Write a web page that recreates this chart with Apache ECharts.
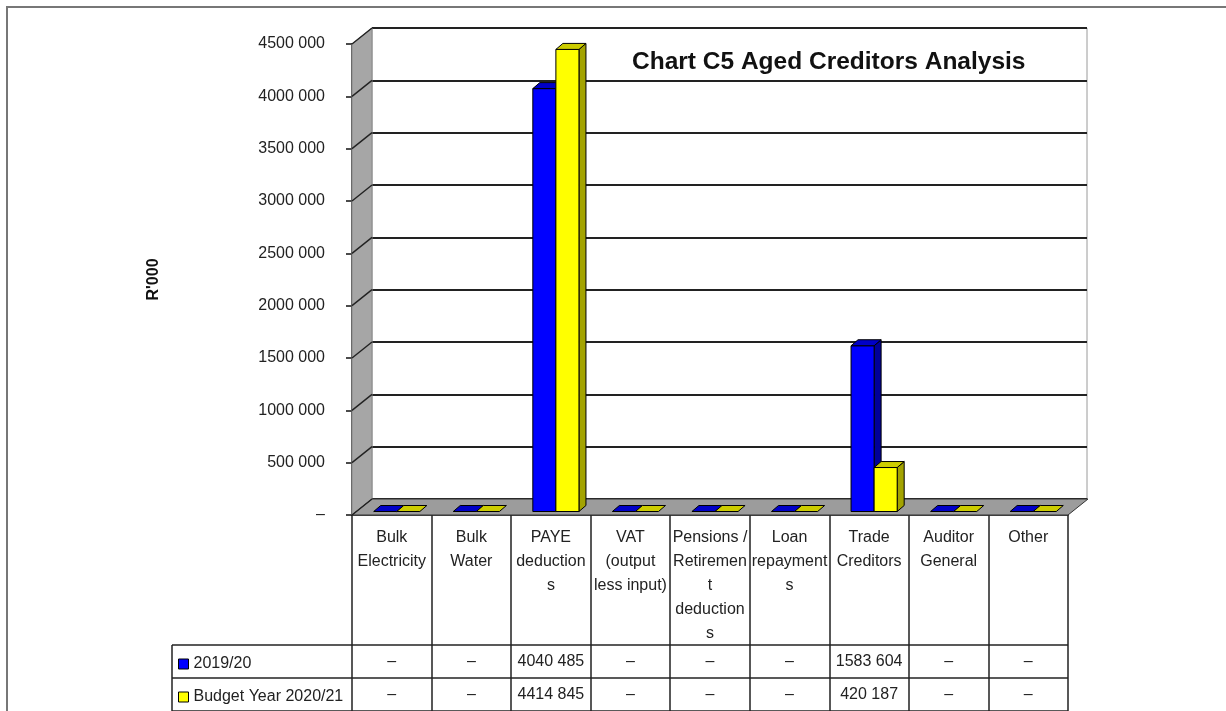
<!DOCTYPE html>
<html>
<head>
<meta charset="utf-8">
<script src="https://cdn.jsdelivr.net/npm/echarts@6/dist/echarts.min.js"></script>
<style>
html,body{margin:0;padding:0;background:#fff;}
#chart{width:1226px;height:711px;}
</style>
</head>
<body>
<div id="chart"></div>
<script>
// ---------- data ----------
const categories = ['Bulk Electricity', 'Bulk Water', 'PAYE deductions', 'VAT (output less input)',
  'Pensions / Retirement deductions', 'Loan repayments', 'Trade Creditors', 'Auditor General', 'Other'];
const categoryLabels = ['Bulk\nElectricity', 'Bulk\nWater', 'PAYE\ndeduction\ns', 'VAT\n(output\nless input)',
  'Pensions /\nRetiremen\nt\ndeduction\ns', 'Loan\nrepayment\ns', 'Trade\nCreditors', 'Auditor\nGeneral', 'Other'];
const seriesNames = ['2019/20', 'Budget Year 2020/21'];
const values2019 = [0, 0, 4040485, 0, 0, 0, 1583604, 0, 0];
const values2021 = [0, 0, 4414845, 0, 0, 0, 420187, 0, 0];
const yTickLabels = ['–', '500 000', '1000 000', '1500 000', '2000 000', '2500 000',
  '3000 000', '3500 000', '4000 000', '4500 000'];
const yMax = 4500000, yStep = 500000;

// ---------- style ----------
const FONT = '"Liberation Sans", Arial, sans-serif';
const DX = 20, DY = -16;          // wall depth
const BX = 5, BY = -3.5;          // bar front plane offset
const BDX = 7, BDY = -6;          // bar depth
const faces = [
  { front: '#0000ff', top: '#0000c8', side: '#000099' },
  { front: '#ffff00', top: '#cccc00', side: '#a3a300' }
];

function fmt(v) {
  if (!v) return '–';
  return Math.floor(v / 1000) + ' ' + String(v % 1000).padStart(3, '0');
}

function barRender(s) {
  return function (params, api) {
    const i = api.value(0), v = api.value(1);
    const top = api.coord([i, v]);
    const base = api.coord([i, 0]);
    const band = api.size([1, 0])[0];
    const w = band * 0.29;
    const left = top[0] - w + s * w + BX;
    const yT = top[1] + BY, yB = base[1] + BY;
    const f = faces[s];
    const st = (fill) => ({ fill: fill, stroke: '#000', lineWidth: 1 });
    const children = [];
    if (yB - yT > 0.5) {
      children.push({ type: 'polygon', shape: { points: [[left + w, yT], [left + w + BDX, yT + BDY], [left + w + BDX, yB + BDY], [left + w, yB]] }, style: st(f.side) });
      children.push({ type: 'rect', shape: { x: left, y: yT, width: w, height: yB - yT }, style: st(f.front) });
    }
    children.push({ type: 'polygon', shape: { points: [[left, yT], [left + BDX, yT + BDY], [left + w + BDX, yT + BDY], [left + w, yT]] }, style: st(f.top) });
    // table cell value
    children.push({ type: 'text', style: { text: fmt(v), x: base[0], y: base[1] + 147 + s * 33,
      align: 'center', verticalAlign: 'middle', fontSize: 16, fontFamily: FONT, fill: '#222' } });
    return { type: 'group', children: children };
  };
}

function decorRender(params, api) {
  const cs = params.coordSys;
  const L = cs.x, T = cs.y, R = cs.x + cs.width, B = cs.y + cs.height;
  const ch = [];
  ch.push({ type: 'polygon', shape: { points: [[L, T], [L + DX, T + DY], [L + DX, B + DY], [L, B]] },
    style: { fill: '#a6a6a6', stroke: '#888', lineWidth: 1 } });
  ch.push({ type: 'polygon', shape: { points: [[L, B], [L + DX, B + DY], [R + DX, B + DY], [R, B]] },
    style: { fill: '#9c9c9c', stroke: '#333', lineWidth: 1 } });
  for (let k = 0; k < yTickLabels.length; k++) {
    const y = api.coord([0, k * yStep])[1];
    ch.push({ type: 'line', shape: { x1: L, y1: y, x2: L + DX, y2: y + DY }, style: { stroke: '#222', lineWidth: 1.5 } });
  }
  // data-table grid lines
  const tl = L - 180;
  [130, 163, 196].forEach(function (o) {
    ch.push({ type: 'line', shape: { x1: tl, y1: B + o, x2: R, y2: B + o }, style: { stroke: '#222', lineWidth: 1.5 } });
  });
  ch.push({ type: 'line', shape: { x1: tl, y1: B + 130, x2: tl, y2: B + 196 }, style: { stroke: '#222', lineWidth: 1.5 } });
  return { type: 'group', children: ch };
}

const chart = echarts.init(document.getElementById('chart'), null, { renderer: 'canvas' });
chart.setOption({
  backgroundColor: '#fff',
  animation: false,
  textStyle: { fontFamily: FONT },
  title: {
    text: 'Chart C5 Aged Creditors Analysis', left: 627, top: 45,
    textStyle: { fontSize: 24.5, fontWeight: 'bold', color: '#111', fontFamily: FONT }
  },
  legend: {
    data: seriesNames, orient: 'vertical', left: 173, top: 651, icon: 'rect',
    itemWidth: 10, itemHeight: 10, itemGap: 17,
    itemStyle: { borderColor: '#000', borderWidth: 1 },
    textStyle: { fontSize: 16, color: '#222', fontFamily: FONT }
  },
  graphic: [
    { type: 'polyline', shape: { points: [[7, 711], [7, 7], [1226, 7]] }, style: { stroke: '#777', lineWidth: 2, fill: null }, silent: true }
  ],
  grid: [
    { left: 352, top: 44, right: 158, bottom: 196, show: false },
    { left: 372, top: 28, right: 139, bottom: 212, show: true, backgroundColor: '#fff', borderColor: '#9a9a9a', borderWidth: 1 }
  ],
  xAxis: [
    {
      type: 'category', gridIndex: 0, data: categories,
      axisLine: { show: true, lineStyle: { color: '#111', width: 1.5 } },
      axisTick: { show: true, interval: 0, length: 196, lineStyle: { color: '#222', width: 1.5 } },
      axisLabel: {
        interval: 0, margin: 11, fontSize: 16, lineHeight: 24, color: '#222', fontFamily: FONT,
        verticalAlign: 'top',
        formatter: function (val, idx) { return categoryLabels[idx]; }
      },
      splitLine: { show: false }
    },
    { type: 'value', gridIndex: 1, min: 0, max: 1, show: false }
  ],
  yAxis: [
    {
      type: 'value', gridIndex: 0, min: 0, max: yMax, interval: yStep,
      name: "R'000", nameLocation: 'middle', nameRotate: 90, nameGap: 190,
      nameTextStyle: { fontSize: 16, fontWeight: 'bold', color: '#111', fontFamily: FONT },
      axisLine: { show: true, lineStyle: { color: '#111', width: 1.5 } },
      axisTick: { show: true, length: 6, lineStyle: { color: '#111', width: 1.5 } },
      axisLabel: {
        margin: 27, fontSize: 16, color: '#222', fontFamily: FONT,
        formatter: function (v) { return yTickLabels[Math.round(v / yStep)]; }
      },
      splitLine: { show: false }
    },
    {
      type: 'value', gridIndex: 1, min: 0, max: yMax, interval: yStep,
      axisLine: { show: false }, axisTick: { show: false }, axisLabel: { show: false },
      splitLine: { show: true, lineStyle: { color: '#222', width: 2 } }
    }
  ],
  series: [
    {
      type: 'custom', name: 'decor', xAxisIndex: 0, yAxisIndex: 0, z: 1, silent: true,
      renderItem: decorRender, data: [[0, 0]]
    },
    {
      type: 'custom', name: seriesNames[0], xAxisIndex: 0, yAxisIndex: 0, z: 3,
      itemStyle: { color: '#0000ff', borderColor: '#000', borderWidth: 1 },
      renderItem: barRender(0),
      data: values2019.map(function (v, i) { return [i, v]; })
    },
    {
      type: 'custom', name: seriesNames[1], xAxisIndex: 0, yAxisIndex: 0, z: 4,
      itemStyle: { color: '#ffff00', borderColor: '#000', borderWidth: 1 },
      renderItem: barRender(1),
      data: values2021.map(function (v, i) { return [i, v]; })
    }
  ]
});
</script>
</body>
</html>
